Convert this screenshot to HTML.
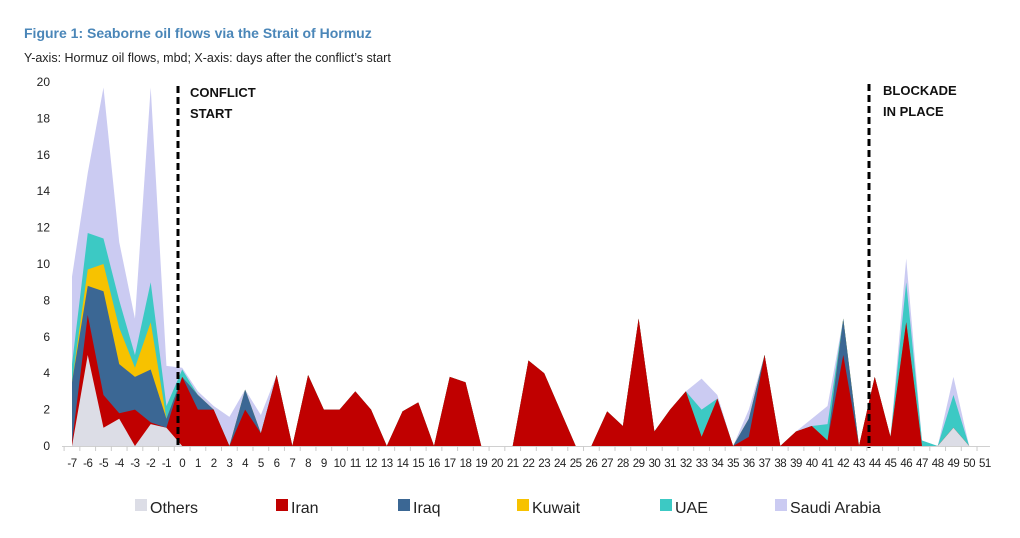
<!DOCTYPE html>
<html><head><meta charset="utf-8"><style>
body{margin:0;background:#fff;width:1020px;height:533px;overflow:hidden;font-family:"Liberation Sans",Arial,sans-serif}
</style></head><body>
<svg id="c" width="1020" height="533" xmlns="http://www.w3.org/2000/svg" font-family="Liberation Sans, Arial, sans-serif">
<text x="24" y="38" font-size="14" font-weight="bold" fill="#4a86b8">Figure 1: Seaborne oil flows via the Strait of Hormuz</text>
<text x="24" y="62" font-size="12.5" fill="#222">Y-axis: Hormuz oil flows, mbd; X-axis: days after the conflict’s start</text>
<g id="g"></g>
</svg>
<script>
var g=document.getElementById('g'),ns='http://www.w3.org/2000/svg';
function X(d){return 72+(d+7)*15.74}function Y(v){return 446-v*18.2}
function el(t,a,txt){var e=document.createElementNS(ns,t);for(var k in a)e.setAttribute(k,a[k]);if(txt!=null)e.textContent=txt;g.appendChild(e);return e}
var raw={'-7':[0,0.2,3.5,3.5,4.5,9.3],'-6':[5,7.2,8.8,9.7,11.7,15],'-5':[1,2.8,8.5,10,11.4,19.7],'-4':[1.5,1.8,4.5,6.5,8,11.2],'-3':[0,2,3.8,4.3,5,7],'-2':[1.2,1.3,4.2,6.8,9,19.7],'-1':[1,1,1.5,1.5,2.2,4.4],'0':[0,3.8,3.8,3.8,4.2,4.3],'1':[0,2,2.8,2.8,2.8,3],'2':[0,2,2,2,2,2.2],'3':[0,0,0,0,0,1.6],'4':[0,2,3.1,3.1,3.1,3.1],'5':[0,0.7,0.7,0.7,0.7,1.7],'6':3.9,'7':0,'8':3.9,'9':2,'10':2,'11':3,'12':2,'13':0,'14':1.9,'15':2.4,'16':0,'17':3.8,'18':3.5,'19':0,'20':0,'21':0,'22':4.7,'23':4,'24':2,'25':0,'26':0,'27':1.9,'28':1.1,'29':7,'30':0.8,'31':2,'32':[0,3,3,3,3,3],'33':[0,0.5,0.5,0.5,2,3.7],'34':[0,2.6,2.6,2.6,2.6,2.8],'35':0,'36':[0,0.5,1.5,1.5,1.5,2],'37':5,'38':0,'39':0.8,'40':[0,1.1,1.1,1.1,1.1,1.5],'41':[0,0.3,0.3,0.3,1.2,2.2],'42':[0,5,7,7,7,7],'43':0,'44':3.8,'45':0.5,'46':[0,6.8,6.8,6.8,9,10.3],'47':[0,0,0,0,0.3,0.3],'48':0,'49':[1,1,1,1,2.8,3.8],'50':0,'51':0};
var data=[];for(var d=-7;d<=51;d++){var v=raw[d];if(typeof v=='number')v=[0,v,v,v,v,v];data.push(v)}
// axes gridline/tick labels
for(var i=0;i<=20;i+=2)el('text',{x:50,y:Y(i)+4,'font-size':12,'text-anchor':'end',fill:'#222'},i);
var cols=['#dcdde6','#c00000','#3b6794','#f7c200','#3cc9c4','#cbcbf2'];
for(var s=5;s>=0;s--){var p='';for(var j=0;j<data.length;j++)p+=X(j-7)+','+Y(data[j][s])+' ';p+=X(51)+','+Y(0)+' '+X(-7)+','+Y(0);el('polygon',{points:p,fill:cols[s]})}
el('line',{x1:62,y1:446.5,x2:990,y2:446.5,stroke:'#d0d0d0','stroke-width':1});
for(var d=-7;d<=51;d++){el('line',{x1:X(d)-7.9,y1:446,x2:X(d)-7.9,y2:451,stroke:'#ccc'});el('text',{x:X(d),y:467,'font-size':11.5,'text-anchor':'middle',fill:'#222','letter-spacing':'-0.5'},d)}
el('line',{x1:178,y1:86,x2:178,y2:448,stroke:'#000','stroke-width':3,'stroke-dasharray':'7,4'});
el('line',{x1:869,y1:84,x2:869,y2:448,stroke:'#000','stroke-width':3,'stroke-dasharray':'7,4'});
el('text',{x:190,y:97,'font-size':13,'font-weight':'bold',fill:'#111'},'CONFLICT');
el('text',{x:190,y:118,'font-size':13,'font-weight':'bold',fill:'#111'},'START');
el('text',{x:883,y:95,'font-size':13,'font-weight':'bold',fill:'#111'},'BLOCKADE');
el('text',{x:883,y:116,'font-size':13,'font-weight':'bold',fill:'#111'},'IN PLACE');
var lg=[[135,'Others',0],[276,'Iran',1],[398,'Iraq',2],[517,'Kuwait',3],[660,'UAE',4],[775,'Saudi Arabia',5]];
lg.forEach(function(l){el('rect',{x:l[0],y:499,width:12,height:12,fill:cols[l[2]]});el('text',{x:l[0]+15,y:513,'font-size':16,fill:'#222'},l[1])});
</script>
</body></html>
